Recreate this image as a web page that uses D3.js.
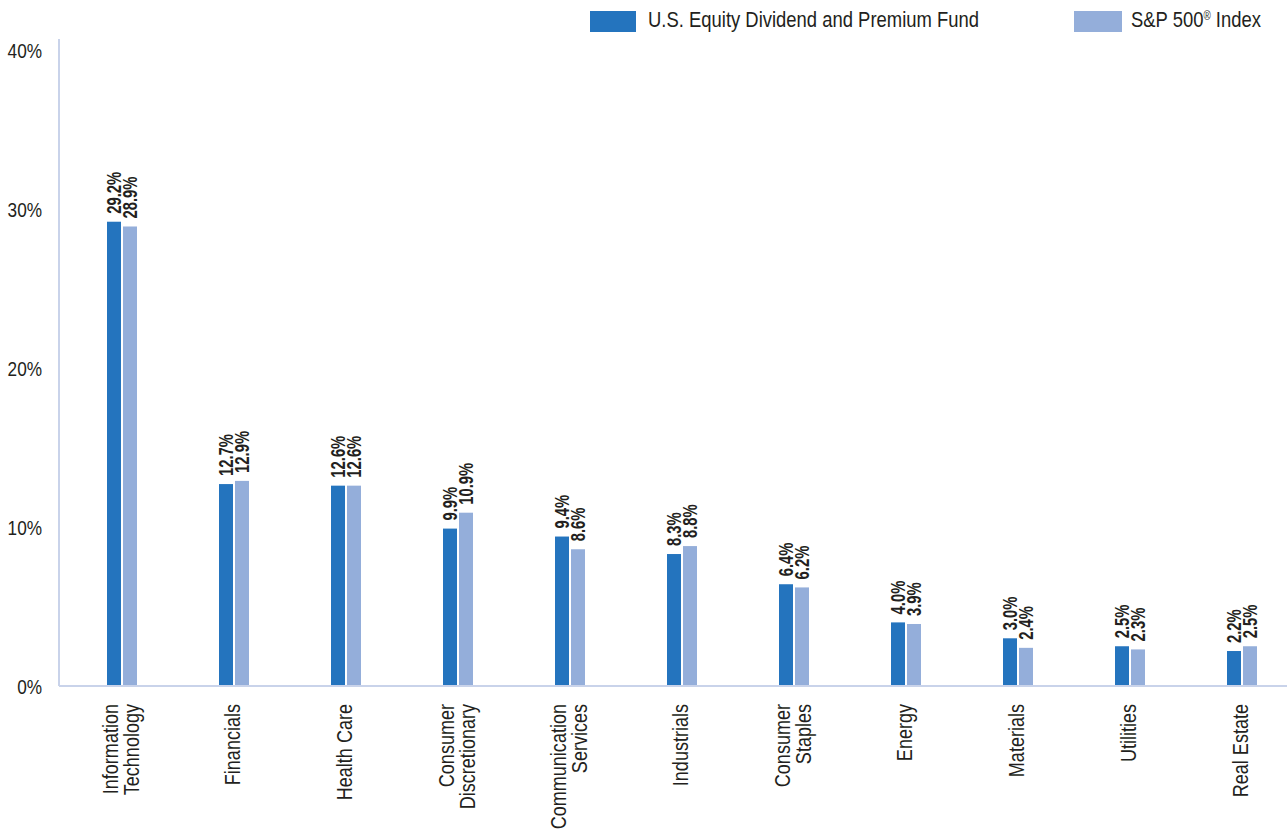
<!DOCTYPE html>
<html>
<head>
<meta charset="utf-8">
<script src="https://cdn.jsdelivr.net/npm/d3@7/dist/d3.min.js"></script>
<style>
  html, body { margin: 0; padding: 0; background: #fff; }
  svg { display: block; }
  text { font-family: "Liberation Sans", Arial, Helvetica, sans-serif; fill: #231f20; }
</style>
</head>
<body>
<svg id="chart" width="1287" height="835"></svg>
<script>
// Sector weights (%)
const categories = [
  "Information Technology", "Financials", "Health Care", "Consumer Discretionary",
  "Communication Services", "Industrials", "Consumer Staples", "Energy",
  "Materials", "Utilities", "Real Estate"
];
const categoryLabels = [
  ["Information", "Technology"], ["Financials"], ["Health Care"], ["Consumer", "Discretionary"],
  ["Communication", "Services"], ["Industrials"], ["Consumer", "Staples"], ["Energy"],
  ["Materials"], ["Utilities"], ["Real Estate"]
];
const seriesNames = ["U.S. Equity Dividend and Premium Fund", "S&P 500® Index"];
const fundValues  = [29.2, 12.7, 12.6, 9.9, 9.4, 8.3, 6.4, 4.0, 3.0, 2.5, 2.2];
const indexValues = [28.9, 12.9, 12.6, 10.9, 8.6, 8.8, 6.2, 3.9, 2.4, 2.3, 2.5];
const yTicks = [0, 10, 20, 30, 40];

const colors = ["#2474be", "#94aeda"];
const axisColor = "#c9d3ea";
const narrow = 0.82;      // horizontal squeeze giving a condensed face
const narrowBold = 0.74;  // tighter squeeze for the bold value labels

const svg = d3.select("#chart");

const baseY = 686;
const y = d3.scaleLinear().domain([0, 40]).range([baseY, 50]);
const x0 = d3.scaleBand().domain(categories).range([66, 66 + 11 * 112]).padding(0);
const x1 = d3.scaleBand().domain(seriesNames).range([-15, 15]).paddingInner(0.125);

const rows = categories.map((c, i) => ({
  cat: c,
  labels: categoryLabels[i],
  vals: [
    { s: seriesNames[0], v: fundValues[i], k: 0 },
    { s: seriesNames[1], v: indexValues[i], k: 1 }
  ]
}));

// Vertical axis line
svg.append("line")
  .attr("x1", 59).attr("x2", 59).attr("y1", 39).attr("y2", baseY)
  .attr("stroke", axisColor).attr("stroke-width", 2);

// Y tick labels
svg.append("g").selectAll("text").data(yTicks).join("text")
  .attr("transform", d => `translate(42,${y(d)}) scale(${narrow},1)`)
  .attr("dy", "0.36em")
  .attr("text-anchor", "end")
  .style("font-size", "21px")
  .text(d => d + "%");

// Bars
const groups = svg.append("g").selectAll("g").data(rows).join("g")
  .attr("transform", d => `translate(${x0(d.cat) + x0.bandwidth() / 2},0)`);

groups.selectAll("rect").data(d => d.vals).join("rect")
  .attr("x", d => x1(d.s))
  .attr("width", x1.bandwidth())
  .attr("y", d => y(d.v))
  .attr("height", d => y(0) - y(d.v))
  .attr("fill", d => colors[d.k]);

// Value labels
groups.selectAll("text.val").data(d => d.vals).join("text")
  .attr("class", "val")
  .attr("transform", d => `translate(${x1(d.s) + x1.bandwidth() / 2},${y(d.v) - 8}) rotate(-90) scale(${narrowBold},1)`)
  .attr("dy", "0.36em")
  .attr("text-anchor", "start")
  .style("font-size", "20px")
  .style("font-weight", "bold")
  .text(d => d.v.toFixed(1) + "%");

// Baseline
svg.append("line")
  .attr("x1", 59).attr("x2", 1287).attr("y1", baseY).attr("y2", baseY)
  .attr("stroke", axisColor).attr("stroke-width", 2);

// Category labels
const catText = groups.append("text")
  .attr("transform", `translate(0,704) rotate(-90) scale(${narrow},1)`)
  .attr("text-anchor", "end")
  .style("font-size", "22px");
catText.selectAll("tspan").data(d => d.labels.map((t, i) => ({ t, i, n: d.labels.length }))).join("tspan")
  .attr("x", 0)
  .attr("y", d => 6 + 21 * (d.i - (d.n - 1) / 2))
  .text(d => d.t);

// Legend
const legendPos = [{ sx: 590, sw: 46, tx: 648 }, { sx: 1074, sw: 48, tx: 1131 }];
const legend = svg.append("g").selectAll("g").data(seriesNames).join("g");
legend.append("rect")
  .attr("x", (d, i) => legendPos[i].sx).attr("y", 11)
  .attr("width", (d, i) => legendPos[i].sw).attr("height", 21)
  .attr("fill", (d, i) => colors[i]);
const lt = legend.append("text")
  .attr("transform", (d, i) => `translate(${legendPos[i].tx},27) scale(${narrow},1)`)
  .style("font-size", "22.5px");
lt.each(function (d) {
  const t = d3.select(this);
  const parts = d.split("®");
  t.append("tspan").text(parts[0]);
  if (parts.length > 1) {
    t.append("tspan").attr("dy", -7).style("font-size", "12px").text("®");
    t.append("tspan").attr("dy", 7).text(parts[1]);
  }
});
</script>
</body>
</html>
